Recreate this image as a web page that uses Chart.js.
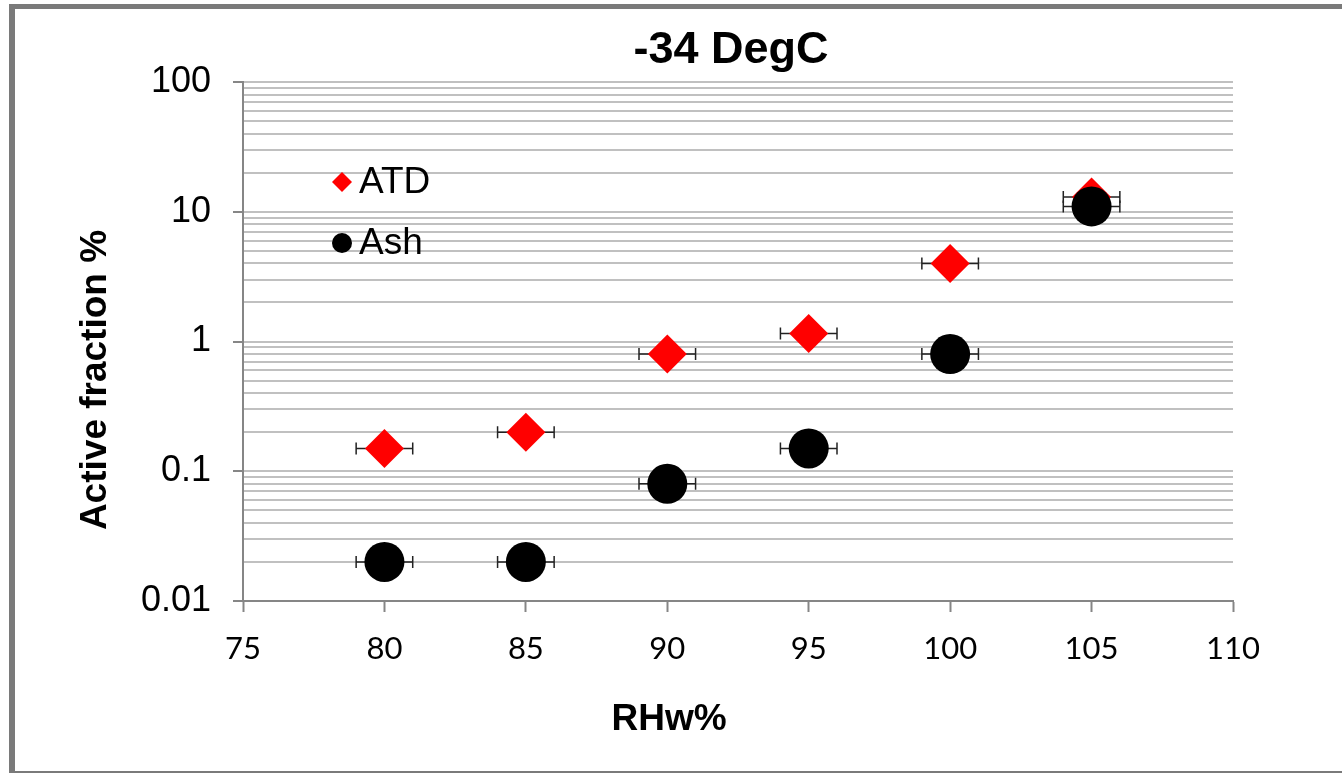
<!DOCTYPE html>
<html>
<head>
<meta charset="utf-8">
<script src="https://cdn.jsdelivr.net/npm/chart.js@4/dist/chart.umd.min.js"></script>
<style>
  html, body { margin: 0; padding: 0; background: #ffffff; }
  #wrap { position: relative; width: 1342px; height: 773px; }
</style>
</head>
<body>
<div id="wrap"><canvas id="chart" width="1342" height="773"></canvas></div>
<script>
// data
const rhValues = [80, 85, 90, 95, 100, 105];
const atdValues = [0.15, 0.2, 0.8, 1.15, 4, 13];
const ashValues = [0.02, 0.02, 0.08, 0.15, 0.8, 11];
const rhErr = [1, 1, 1, 1, 1, 1];

const xTicks = [75, 80, 85, 90, 95, 100, 105, 110];
const yMajorTicks = [0.01, 0.1, 1, 10, 100];

const titleText = '-34 DegC';
const xTitleText = 'RHw%';
const yTitleText = 'Active fraction %';

const axiscolor = '#868686';
const gridcolor = '#c0c0c0';
const framecolor = '#7a7a7a';

// minor lines 2..9 inside each decade
const yTicks = [];
yMajorTicks.forEach((v, i) => {
  yTicks.push(v);
  if (i < yMajorTicks.length - 1) {
    for (let m = 2; m <= 9; m++) yTicks.push(+(v * m).toPrecision(3));
  }
});

const isMajor = v => yMajorTicks.includes(v);

Chart.defaults.font.family = '"Liberation Sans", Arial, sans-serif';
Chart.defaults.color = '#000000';

const toPoints = vals => rhValues.map((x, i) => ({ x: x, y: vals[i] }));

const errorBars = {
  id: 'errorBars',
  beforeDatasetsDraw(chart) {
    const ctx = chart.ctx;
    const sx = chart.scales.x;
    const sy = chart.scales.y;
    ctx.save();
    ctx.strokeStyle = '#222222';
    ctx.lineWidth = 1.5;
    chart.data.datasets.forEach(ds => {
      ds.data.forEach((p, i) => {
        const x0 = sx.getPixelForValue(p.x - rhErr[i]);
        const x1 = sx.getPixelForValue(p.x + rhErr[i]);
        const y = sy.getPixelForValue(p.y);
        ctx.beginPath();
        ctx.moveTo(x0, y);
        ctx.lineTo(x1, y);
        ctx.moveTo(x0, y - 6);
        ctx.lineTo(x0, y + 6);
        ctx.moveTo(x1, y - 6);
        ctx.lineTo(x1, y + 6);
        ctx.stroke();
      });
    });
    ctx.restore();
  }
};

const decorations = {
  id: 'decorations',
  afterDraw(chart) {
    const ctx = chart.ctx;
    ctx.save();

    // outer frame of the picture
    ctx.fillStyle = framecolor;
    ctx.fillRect(9, 4, 1342 - 9, 5);
    ctx.fillRect(9, 4, 6, 773 - 4);
    ctx.fillRect(9, 771, 1342 - 9, 2);

    ctx.fillStyle = '#000000';
    ctx.textAlign = 'center';
    ctx.textBaseline = 'middle';

    ctx.font = 'bold 45px "Liberation Sans", Arial, sans-serif';
    ctx.fillText(titleText, 731, 51);

    ctx.font = 'bold 37px "Liberation Sans", Arial, sans-serif';
    ctx.fillText(xTitleText, 669, 720);

    ctx.save();
    ctx.translate(96, 380);
    ctx.rotate(-Math.PI / 2);
    ctx.fillText(yTitleText, 0, 0);
    ctx.restore();

    // legend inside the plot
    const items = [
      { ds: chart.data.datasets[0], y: 182 },
      { ds: chart.data.datasets[1], y: 243 },
    ];
    ctx.textAlign = 'left';
    ctx.font = '37px "Liberation Sans", Arial, sans-serif';
    items.forEach(it => {
      const cx = 342;
      ctx.fillStyle = it.ds.backgroundColor;
      ctx.beginPath();
      if (it.ds.pointStyle === 'rectRot') {
        ctx.moveTo(cx - 10, it.y);
        ctx.lineTo(cx, it.y - 10);
        ctx.lineTo(cx + 10, it.y);
        ctx.lineTo(cx, it.y + 10);
        ctx.closePath();
      } else {
        ctx.arc(cx, it.y, 10, 0, Math.PI * 2);
      }
      ctx.fill();
      ctx.fillStyle = '#000000';
      ctx.fillText(it.ds.label, 359, it.y + 1);
    });

    ctx.restore();
  }
};

new Chart(document.getElementById('chart'), {
  type: 'scatter',
  data: {
    datasets: [
      {
        label: 'ATD',
        data: toPoints(atdValues),
        pointStyle: 'rectRot',
        pointRadius: 19.5,
        backgroundColor: '#ff0000',
        borderColor: '#ff0000',
        borderWidth: 0,
        order: 2,
      },
      {
        label: 'Ash',
        data: toPoints(ashValues),
        pointStyle: 'circle',
        pointRadius: 20,
        backgroundColor: '#000000',
        borderColor: '#000000',
        borderWidth: 0,
        order: 1,
      },
    ],
  },
  options: {
    responsive: false,
    animation: false,
    events: [],
    layout: {
      padding: { top: 82, right: 109, bottom: 0, left: 0 },
    },
    scales: {
      x: {
        type: 'linear',
        min: 75,
        max: 110,
        afterFit: s => { s.height = 172; },
        afterBuildTicks: s => { s.ticks = xTicks.map(v => ({ value: v })); },
        ticks: {
          font: { family: 'Lato, "Open Sans", sans-serif', size: 31 },
          color: '#000000',
          padding: 18,
          maxRotation: 0,
        },
        grid: {
          drawOnChartArea: false,
          drawTicks: true,
          tickLength: 11,
          tickColor: axiscolor,
          tickWidth: 2,
        },
        border: { color: axiscolor, width: 2 },
      },
      y: {
        type: 'logarithmic',
        min: 0.01,
        max: 100,
        afterFit: s => { s.width = 243; },
        afterBuildTicks: s => { s.ticks = yTicks.map(v => ({ value: v, major: isMajor(v) })); },
        ticks: {
          autoSkip: false,
          font: { size: 36 },
          color: '#000000',
          padding: 22,
          callback: v => isMajor(v) ? String(v) : '',
        },
        grid: {
          color: gridcolor,
          lineWidth: 2,
          drawTicks: true,
          tickLength: 10,
          tickWidth: 2,
          tickColor: c => (c.tick && c.tick.major) ? axiscolor : 'rgba(0,0,0,0)',
        },
        border: { color: axiscolor, width: 2 },
      },
    },
    plugins: {
      legend: { display: false },
      title: { display: false },
      tooltip: { enabled: false },
    },
  },
  plugins: [errorBars, decorations],
});
</script>
</body>
</html>
